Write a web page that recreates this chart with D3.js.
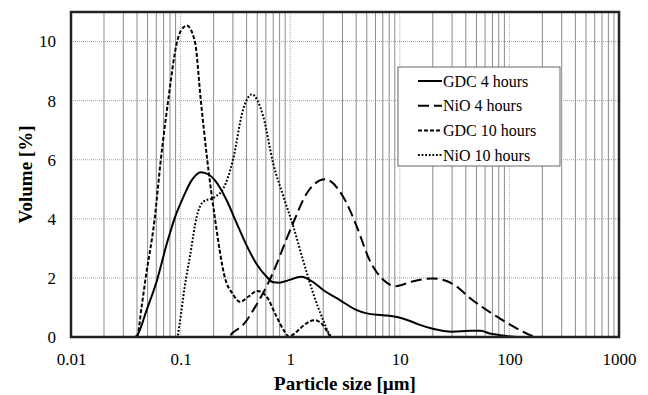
<!DOCTYPE html>
<html>
<head>
<meta charset="utf-8">
<title>Particle size distribution</title>
<script src="https://cdn.jsdelivr.net/npm/d3@7"></script>
<style>
  body { margin: 0; background: #fff; }
  text { font-family: "Liberation Serif", "Times New Roman", serif; fill: #000; }
  .tick text { font-size: 17px; }
</style>
</head>
<body>
<div class="container"></div>
<script>

// particle size [um] and volume [%]
var gdc4Size = [0.01, 0.038, 0.04, 0.049, 0.061, 0.075, 0.089, 0.106, 0.126, 0.153, 0.18, 0.206, 0.263, 0.326, 0.4, 0.49, 0.61, 0.7, 0.8, 0.93, 1.27, 1.6, 2.0, 2.84, 4.0, 5.0, 7.0, 9.4, 12, 15, 20, 30, 44, 55, 66, 80, 95, 120, 1000];
var gdc4Vol  = [0, 0, 0.05, 0.91, 1.93, 3.17, 4.06, 4.74, 5.3, 5.58, 5.5, 5.3, 4.63, 3.84, 3.1, 2.49, 2.04, 1.85, 1.84, 1.9, 2.04, 1.87, 1.59, 1.25, 0.92, 0.8, 0.74, 0.68, 0.56, 0.42, 0.28, 0.18, 0.21, 0.21, 0.12, 0.07, 0.03, 0, 0];

var nio4Size = [0.01, 0.27, 0.3, 0.38, 0.46, 0.65, 1.03, 1.41, 2.08, 3.05, 4.06, 5.3, 7.1, 9.1, 13, 20, 30, 46, 77, 124, 164, 190, 1000];
var nio4Vol  = [0, 0, 0.15, 0.45, 0.91, 1.93, 3.73, 4.85, 5.34, 4.74, 3.73, 2.6, 1.93, 1.72, 1.88, 1.98, 1.81, 1.25, 0.69, 0.24, 0.03, 0, 0];

var gdc10Size = [0.01, 0.04, 0.044, 0.048, 0.058, 0.066, 0.077, 0.093, 0.1, 0.114, 0.135, 0.153, 0.175, 0.206, 0.254, 0.3, 0.348, 0.42, 0.5, 0.61, 0.75, 0.89, 0.97, 1.1, 1.23, 1.68, 2.0, 2.39, 1000];
var gdc10Vol  = [0, 0, 1.0, 2.0, 4.0, 6.0, 8.0, 10.0, 10.35, 10.54, 10.0, 8.0, 6.0, 4.0, 2.0, 1.45, 1.19, 1.38, 1.56, 1.36, 0.69, 0.18, 0.02, 0.12, 0.29, 0.57, 0.4, 0, 0];

var nio10Size = [0.01, 0.093, 0.098, 0.109, 0.122, 0.14, 0.16, 0.206, 0.245, 0.3, 0.37, 0.446, 0.57, 0.7, 0.87, 1.07, 1.31, 1.62, 2.0, 2.3, 2.4, 1000];
var nio10Vol  = [0, 0, 0.46, 1.7, 2.75, 4.06, 4.57, 4.74, 5.02, 5.98, 7.67, 8.21, 7.44, 5.87, 4.74, 3.73, 2.6, 1.48, 0.57, 0.07, 0, 0];

var seriesNames = ["GDC 4 hours", "NiO 4 hours", "GDC 10 hours", "NiO 10 hours"];
var xTicks = [0.01, 0.1, 1, 10, 100, 1000];
var yTicks = [0, 2, 4, 6, 8, 10];

var series = [
  {name: seriesNames[0], size: gdc4Size, vol: gdc4Vol, dash: null},
  {name: seriesNames[1], size: nio4Size, vol: nio4Vol, dash: "11,5"},
  {name: seriesNames[2], size: gdc10Size, vol: gdc10Vol, dash: "4,2"},
  {name: seriesNames[3], size: nio10Size, vol: nio10Vol, dash: "1.8,1.8"}
];

var svgWidth = 648, svgHeight = 395;
var margin = {top: 12, right: 29, bottom: 58, left: 71};
var width = svgWidth - margin.left - margin.right;
var height = svgHeight - margin.top - margin.bottom;

var svg = d3.select('.container').append('svg')
    .attr('width', svgWidth)
    .attr('height', svgHeight);

var g = svg.append('g').attr('transform', `translate(${margin.left},${margin.top})`);

var x = d3.scaleLog().domain([0.01, 1000]).range([0, width]);
var y = d3.scaleLinear().domain([0, 11]).range([height, 0]);

// minor vertical gridlines (2..9 of each decade)
var minor = [];
for (var e = -2; e < 3; e++) {
  for (var m = 2; m <= 9; m++) minor.push(m * Math.pow(10, e));
}
g.append('g').selectAll('line').data(minor).enter().append('line')
  .attr('x1', d => x(d)).attr('x2', d => x(d))
  .attr('y1', 0).attr('y2', height)
  .attr('stroke', '#8c8c8c').attr('stroke-width', 1);

// major gridlines, dotted
g.append('g').selectAll('line').data(xTicks.slice(1, -1)).enter().append('line')
  .attr('x1', d => x(d)).attr('x2', d => x(d))
  .attr('y1', 0).attr('y2', height)
  .attr('stroke', '#b0b0b0').attr('stroke-width', 1).attr('stroke-dasharray', '1,1');
g.append('g').selectAll('line').data(yTicks.slice(1)).enter().append('line')
  .attr('x1', 0).attr('x2', width)
  .attr('y1', d => y(d)).attr('y2', d => y(d))
  .attr('stroke', '#a0a0a0').attr('stroke-width', 1).attr('stroke-dasharray', '1,1');

var line = d3.line()
  .x(d => x(d[0]))
  .y(d => y(d[1]))
  .curve(d3.curveMonotoneX);

series.forEach(function(s) {
  var pts = s.size.map((v, i) => [v, s.vol[i]]);
  g.append('path')
    .attr('d', line(pts))
    .attr('fill', 'none')
    .attr('stroke', '#000')
    .attr('stroke-width', 2)
    .attr('stroke-dasharray', s.dash);
});

// plot frame
g.append('rect')
  .attr('width', width).attr('height', height)
  .attr('fill', 'none').attr('stroke', '#222').attr('stroke-width', 2.5);

var xAxis = d3.axisBottom(x).tickValues(xTicks).tickFormat(d => String(d)).tickSize(0).tickPadding(16);
var gx = g.append('g').attr('transform', `translate(0,${height})`).call(xAxis);
gx.select('.domain').remove();

var yAxis = d3.axisLeft(y).tickValues(yTicks).tickSize(0).tickPadding(15);
var gy = g.append('g').call(yAxis);
gy.select('.domain').remove();

svg.append('text')
  .attr('x', margin.left + width / 2)
  .attr('y', 390)
  .attr('text-anchor', 'middle')
  .attr('font-size', 19).attr('font-weight', 'bold')
  .text('Particle size [µm]');

svg.append('text')
  .attr('transform', `translate(32,${margin.top + height / 2}) rotate(-90)`)
  .attr('text-anchor', 'middle')
  .attr('font-size', 19).attr('font-weight', 'bold')
  .text('Volume [%]');

// legend
var lg = svg.append('g').attr('transform', 'translate(398,67)');
lg.append('rect').attr('width', 162).attr('height', 99)
  .attr('fill', '#fff').attr('stroke', '#666').attr('stroke-width', 1);
var item = lg.selectAll('.item').data(series).enter().append('g')
  .attr('transform', (d, i) => `translate(0,${14 + i * 24.7})`);
item.append('line')
  .attr('x1', 20).attr('x2', 44).attr('y1', 0).attr('y2', 0)
  .attr('stroke', '#000').attr('stroke-width', 2)
  .attr('stroke-dasharray', d => d.dash);
item.append('text')
  .attr('x', 45).attr('y', 5.5)
  .attr('font-size', 16)
  .text(d => d.name);

</script>
</body>
</html>
